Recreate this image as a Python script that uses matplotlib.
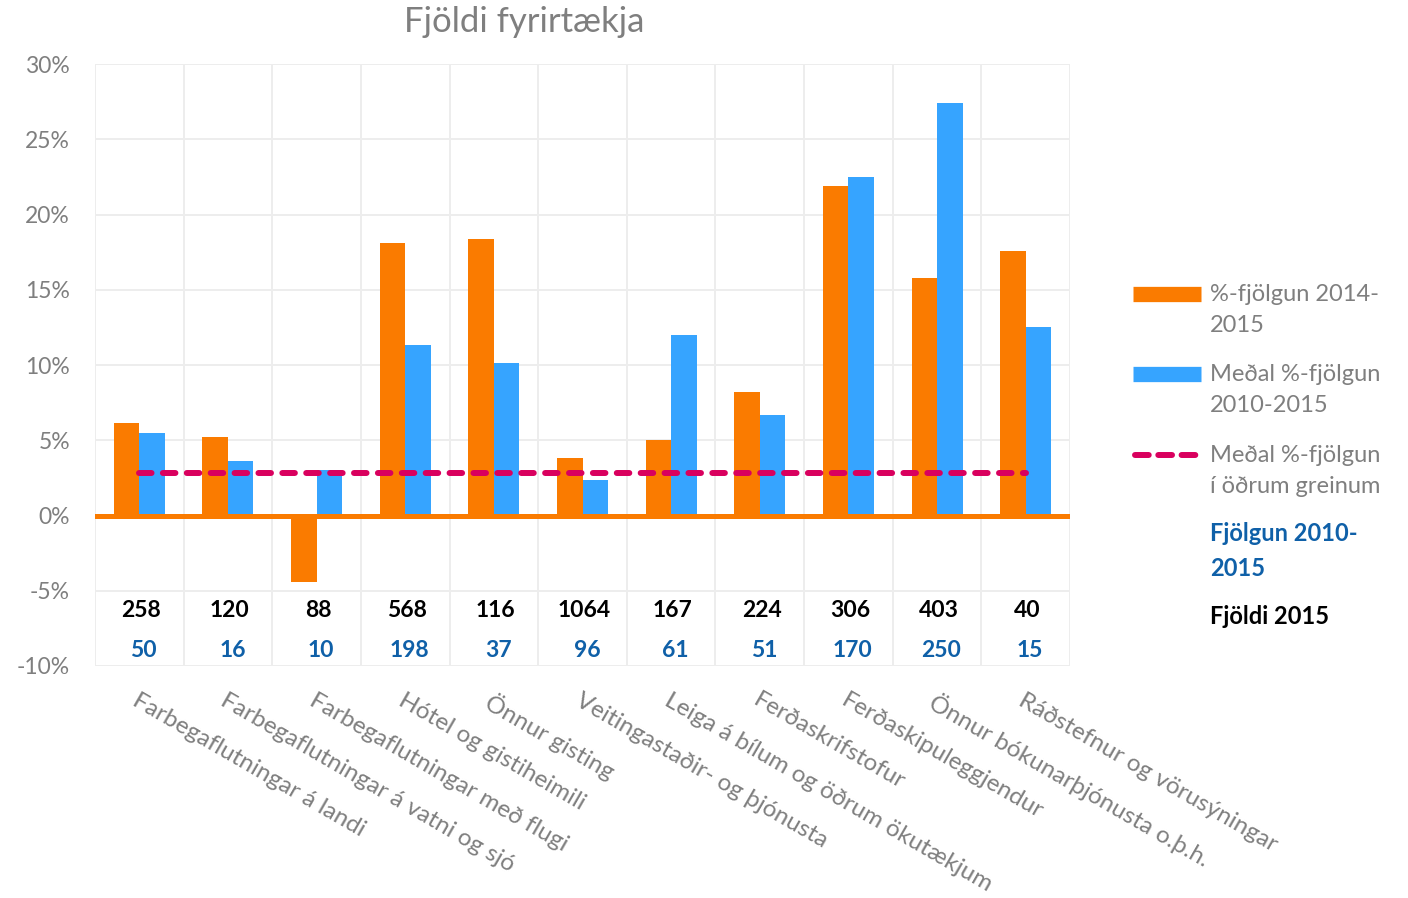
import matplotlib
matplotlib.use("Agg")
import numpy as np
import matplotlib.pyplot as plt
from matplotlib.lines import Line2D
from matplotlib.ticker import FuncFormatter, MultipleLocator

plt.rcParams['font.family'] = ['Lato', 'DejaVu Sans']

# data
categories = [
    "Farbegaflutningar á landi",
    "Farbegaflutningar á vatni og sjó",
    "Farbegaflutningar með flugi",
    "Hótel og gistiheimili",
    "Önnur gisting",
    "Veitingastaðir- og þjónusta",
    "Leiga á bílum og öðrum ökutækjum",
    "Ferðaskrifstofur",
    "Ferðaskipuleggjendur",
    "Önnur bókunarþjónusta o.þ.h.",
    "Ráðstefnur og vörusýningar",
]
growth_2014_2015 = [6.15, 5.2, -4.4, 18.1, 18.4, 3.8, 5.0, 8.2, 21.9, 15.8, 17.6]
avg_growth_2010_2015 = [5.5, 3.6, 3.0, 11.3, 10.1, 2.35, 12.0, 6.7, 22.5, 27.4, 12.5]
avg_growth_other = [2.8] * len(categories)
count_2015 = [258, 120, 88, 568, 116, 1064, 167, 224, 306, 403, 40]
increase_2010_2015 = [50, 16, 10, 198, 37, 96, 61, 51, 170, 250, 15]

orange = "#FA7B00"
blue = "#36A4FF"
magenta = "#D9005E"
dark_blue = "#0F60A8"
gray = "#7F7F7F"
grid_c = "#EDEDED"

W, H = 1408, 898


def fpos(x, y):
    # pixel position -> figure fraction
    return x / W, 1 - y / H


fig = plt.figure(figsize=(W / 100, H / 100), dpi=100)
ax = fig.add_axes([95 / W, 1 - 666 / H, (1070 - 95) / W, (666 - 64) / H])

x = np.arange(len(categories))
w = 0.288
ax.bar(x - w / 2, growth_2014_2015, w, color=orange, zorder=3)
ax.bar(x + w / 2, avg_growth_2010_2015, w, color=blue, zorder=3)
ax.axhline(0, color=orange, lw=3.6, zorder=4)
ax.plot(x, avg_growth_other, color=magenta, lw=4.3, dashes=(2.1, 1.9),
        dash_capstyle='round', zorder=5)

ax.set_xlim(-0.5, len(categories) - 0.5)
ax.set_ylim(-10, 30)
ax.yaxis.set_major_locator(MultipleLocator(5))
ax.yaxis.set_major_formatter(FuncFormatter(lambda v, p: f"{v:.0f}%"))
ax.set_xticks(x)
ax.set_xticks(np.arange(-0.5, len(categories), 1), minor=True)
ax.set_xticklabels(categories, rotation=-30, ha='left', va='top',
                   rotation_mode='anchor', fontsize=17.5, color=gray)
ax.grid(axis='y', which='major', color=grid_c, lw=1.4, zorder=0)
ax.grid(axis='x', which='minor', color=grid_c, lw=1.4, zorder=0)
ax.tick_params(axis='both', which='both', length=0)
ax.tick_params(axis='y', pad=18, labelsize=16.5, labelcolor=gray)
ax.tick_params(axis='x', pad=17)
for s in ax.spines.values():
    s.set_visible(False)

# counts under the axis
for i, (n, d) in enumerate(zip(count_2015, increase_2010_2015)):
    ax.text(i + 0.02, -6.3, str(n), ha='center', va='center',
            fontsize=16.5, fontweight='bold', color='black')
    ax.text(i + 0.05, -8.95, str(d), ha='center', va='center',
            fontsize=16.5, fontweight='bold', color=dark_blue)

fig.text(*fpos(524, 22), "Fjöldi fyrirtækja", ha='center', va='center',
         fontsize=25, color=gray)

# legend drawn by hand
x0, x1 = fpos(1133, 0)[0], fpos(1201, 0)[0]
for yy, col in [(294, orange), (374, blue)]:
    fig.add_artist(Line2D([x0, x1], [fpos(0, yy)[1]] * 2, color=col, lw=11,
                          solid_capstyle='butt'))
fig.add_artist(Line2D([x0 + 2 / W, x1 - 2 / W], [fpos(0, 455)[1]] * 2,
                      color=magenta, lw=4.3, dashes=(2.3, 1.6),
                      dash_capstyle='round'))
legend_texts = [
    (310, "%-fjölgun 2014-\n2015"),
    (390, "Meðal %-fjölgun\n2010-2015"),
    (471, "Meðal %-fjölgun\ní öðrum greinum"),
]
for yy, t in legend_texts:
    fig.text(*fpos(1210, yy), t, ha='left', va='center', fontsize=17,
             color=gray, linespacing=1.6)
fig.text(*fpos(1210, 551), "Fjölgun 2010-\n2015", ha='left', va='center',
         fontsize=17, fontweight='bold', color=dark_blue, linespacing=1.6)
fig.text(*fpos(1210, 616), "Fjöldi 2015", ha='left', va='center',
         fontsize=17, fontweight='bold', color='black')

fig.savefig("out.png", dpi=100)
